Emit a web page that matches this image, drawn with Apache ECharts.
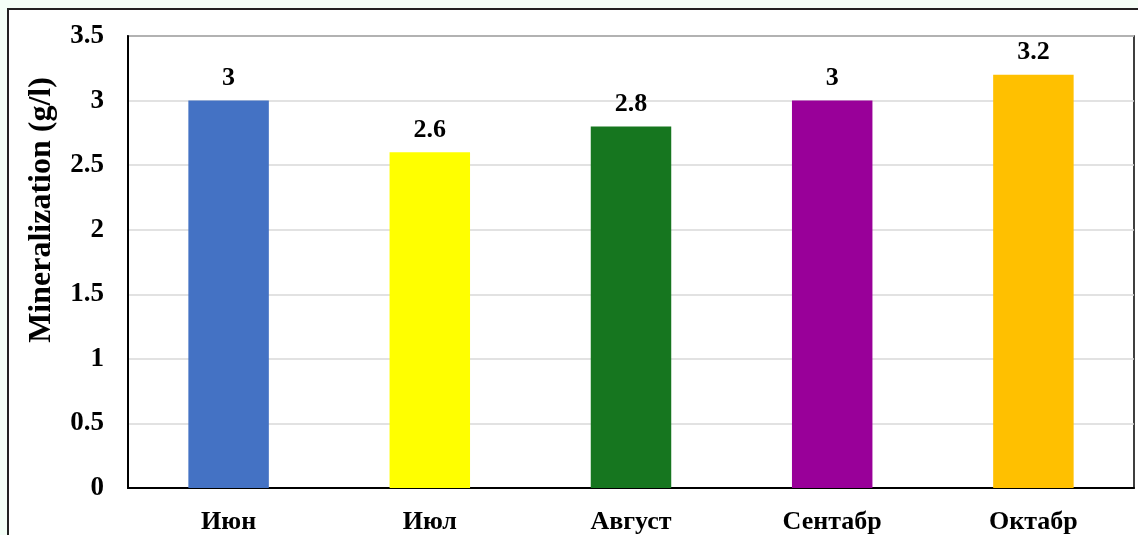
<!DOCTYPE html>
<html>
<head>
<meta charset="utf-8">
<script src="https://cdn.jsdelivr.net/npm/echarts@6/dist/echarts.min.js"></script>
<style>
html,body{margin:0;padding:0;width:1138px;height:535px;background:#f4fff7;overflow:hidden;}
#frame{position:absolute;left:7px;top:8px;width:1200px;height:600px;background:#fff;border-left:2px solid #222;border-top:2px solid #222;}
#chart{position:absolute;left:0;top:0;width:1138px;height:535px;}
</style>
</head>
<body>
<div id="frame"></div>
<div id="chart"></div>
<script>
const categories = ['Июн', 'Июл', 'Август', 'Сентабр', 'Октабр'];
const values = [3, 2.6, 2.8, 3, 3.2];
const barColors = ['#4472C4', '#FFFF00', '#16761F', '#990099', '#FFC000'];
const yTicks = [0, 0.5, 1, 1.5, 2, 2.5, 3, 3.5];
const yAxisTitle = 'Mineralization (g/l)';

const chart = echarts.init(document.getElementById('chart'), null, {renderer: 'canvas'});
const font = '"Liberation Serif", "Times New Roman", serif';
chart.setOption({
  animation: false,
  backgroundColor: 'transparent',
  grid: {left: 128, right: 4, top: 36, bottom: 47, show: true, borderColor: '#000', borderWidth: 1.5, backgroundColor: 'transparent'},
  graphic: [{
    type: 'text',
    x: 42, y: 210,
    rotation: Math.PI / 2,
    style: {text: yAxisTitle, fill: '#000', font: 'bold 32px ' + font, textAlign: 'center', textVerticalAlign: 'middle'}
  }],
  xAxis: {
    type: 'category',
    data: categories,
    axisLine: {lineStyle: {color: '#000', width: 2}},
    axisTick: {show: false},
    axisLabel: {color: '#000', fontFamily: font, fontWeight: 'bold', fontSize: 26, margin: 21}
  },
  yAxis: {
    type: 'value',
    min: yTicks[0],
    max: yTicks[yTicks.length - 1],
    interval: 0.5,
    axisLine: {show: true, lineStyle: {color: '#000', width: 2}},
    axisTick: {show: false},
    splitLine: {lineStyle: {color: '#d9d9d9', width: 1.5}},
    axisLabel: {color: '#000', fontFamily: font, fontWeight: 'bold', fontSize: 27, margin: 24}
  },
  series: [{
    type: 'bar',
    barWidth: '40%',
    data: values.map((v, i) => ({value: v, itemStyle: {color: barColors[i]}})),
    label: {show: true, position: 'top', distance: 9, color: '#000', fontFamily: font, fontWeight: 'bold', fontSize: 26}
  }]
});
</script>
</body>
</html>
